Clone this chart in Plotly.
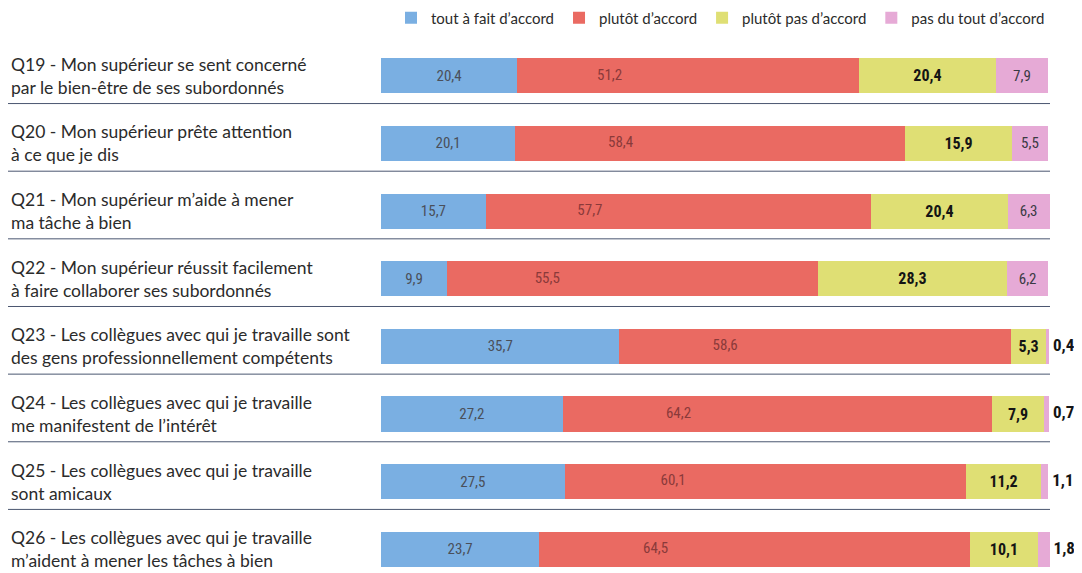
import plotly.graph_objects as go

questions = ["Q19", "Q20", "Q21", "Q22", "Q23", "Q24", "Q25", "Q26"]
question_labels = [
    "Q19 - Mon supérieur se sent concerné<br>par le bien-être de ses subordonnés",
    "Q20 - Mon supérieur prête attention<br>à ce que je dis",
    "Q21 - Mon supérieur m’aide à mener<br>ma tâche à bien",
    "Q22 - Mon supérieur réussit facilement<br>à faire collaborer ses subordonnés",
    "Q23 - Les collègues avec qui je travaille sont<br>des gens professionnellement compétents",
    "Q24 - Les collègues avec qui je travaille<br>me manifestent de l’intérêt",
    "Q25 - Les collègues avec qui je travaille<br>sont amicaux",
    "Q26 - Les collègues avec qui je travaille<br>m’aident à mener les tâches à bien",
]
series_names = ["tout à fait d’accord", "plutôt d’accord", "plutôt pas d’accord", "pas du tout d’accord"]
tout_a_fait = [20.4, 20.1, 15.7, 9.9, 35.7, 27.2, 27.5, 23.7]
plutot = [51.2, 58.4, 57.7, 55.5, 58.6, 64.2, 60.1, 64.5]
plutot_pas = [20.4, 15.9, 20.4, 28.3, 5.3, 7.9, 11.2, 10.1]
pas_du_tout = [7.9, 5.5, 6.3, 6.2, 0.4, 0.7, 1.1, 1.8]

colors = ["#7aafe2", "#ea6a62", "#dfdf74", "#e6aad6"]
num_font = "Roboto Condensed, DejaVu Sans Condensed, Liberation Sans Narrow, Roboto, sans-serif"
txt_font = "Lato, Open Sans, sans-serif"


def fmt(v):
    return f"{v:.1f}".replace(".", ",")


ypos = list(range(len(questions)))
totals = [a + b + c + d for a, b, c, d in zip(tout_a_fait, plutot, plutot_pas, pas_du_tout)]

fig = go.Figure()

fig.add_trace(go.Bar(
    y=ypos, x=tout_a_fait, orientation="h", name=series_names[0],
    marker=dict(color=colors[0], line=dict(width=0)),
    text=[fmt(v) for v in tout_a_fait],
    textposition="inside", insidetextanchor="middle", constraintext="none",
    textfont=dict(family=num_font, size=15, color="#4a4f5a"),
    width=0.52, hoverinfo="skip",
))
fig.add_trace(go.Bar(
    y=ypos, x=plutot, orientation="h", name=series_names[1],
    marker=dict(color=colors[1], line=dict(width=0)),
    width=0.52, hoverinfo="skip",
))
fig.add_trace(go.Bar(
    y=ypos, x=plutot_pas, orientation="h", name=series_names[2],
    marker=dict(color=colors[2], line=dict(width=0)),
    text=[fmt(v) for v in plutot_pas],
    textposition="inside", insidetextanchor="middle", constraintext="none",
    textfont=dict(family=num_font, size=16, color="#141414", weight="bold"),
    width=0.52, hoverinfo="skip",
))
fig.add_trace(go.Bar(
    y=ypos, x=pas_du_tout, orientation="h", name=series_names[3],
    marker=dict(color=colors[3], line=dict(width=0)),
    text=[fmt(v) if v >= 5 else "" for v in pas_du_tout],
    textposition="inside", insidetextanchor="middle", constraintext="none",
    textfont=dict(family=num_font, size=15, color="#3a3a44"),
    width=0.52, hoverinfo="skip",
))
# red labels, about a quarter of the way into the red segment
red_x = [a + 0.27 * b for a, b in zip(tout_a_fait, plutot)]
fig.add_trace(go.Scatter(
    y=ypos, x=red_x, mode="text",
    text=[fmt(v) for v in plutot],
    textfont=dict(family=num_font, size=15, color="#8a3a3a"),
    showlegend=False, hoverinfo="skip",
))
# small pink values written just past the end of the bar
fig.add_trace(go.Scatter(
    y=ypos, x=totals, mode="text", textposition="middle right",
    text=[" " + fmt(v) if v < 5 else "" for v in pas_du_tout],
    textfont=dict(family=num_font, size=17, color="#141414", weight="bold"),
    cliponaxis=False, showlegend=False, hoverinfo="skip",
))

OFF = 8          # page body margin
L = 381 - OFF
W = 669
FW, FH = 1082 - OFF, 573 - OFF
TOP = 42 - OFF

for i, lab in enumerate(question_labels):
    fig.add_annotation(
        x=(9 - OFF - L) / W, xref="paper", y=i, yref="y",
        text=lab, showarrow=False, xanchor="left", yanchor="middle",
        align="left", font=dict(family=txt_font, size=17.5, color="#2b2b2b"),
    )

for i in range(len(questions) - 1):
    fig.add_shape(
        type="line", xref="paper", yref="y",
        x0=(4 - OFF - L) / W, x1=1.0, y0=i + 0.41, y1=i + 0.41,
        line=dict(color="#4a5670", width=1),
    )

fig.update_layout(
    width=FW, height=FH,
    barmode="stack",
    margin=dict(l=L, r=FW - L - W, t=TOP, b=0, autoexpand=False),
    paper_bgcolor="white", plot_bgcolor="white",
    xaxis=dict(range=[0, 100.15], visible=False),
    yaxis=dict(range=[7.35, -0.5], visible=False),
    legend=dict(
        orientation="h", xref="paper", x=1.0, xanchor="right",
        yref="container", y=1 - (18 - OFF) / FH, yanchor="middle",
        font=dict(family=txt_font, size=15, color="#2b2b2b"),
        itemwidth=30, traceorder="normal",
    ),
    showlegend=True,
)

fig.write_html("out.html")
